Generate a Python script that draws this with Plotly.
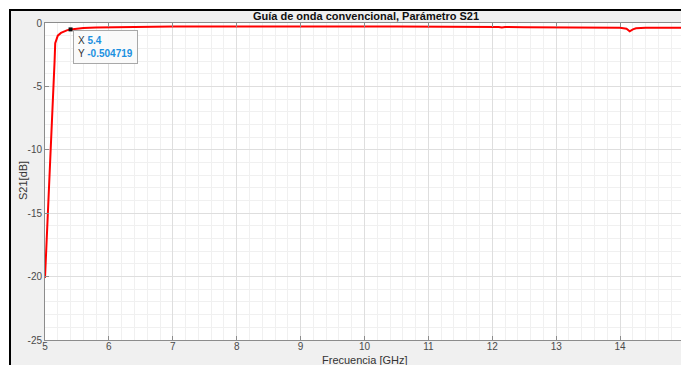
import plotly.graph_objects as go

# S21 sweep of the conventional waveguide (frequency in GHz, magnitude in dB)
freq_ghz = [5.0, 5.05, 5.1, 5.13, 5.15, 5.16, 5.2, 5.25, 5.3, 5.35, 5.4, 5.5, 5.6, 5.8,
            6.0, 6.5, 7.0, 7.5, 8.0, 8.5, 9.0, 9.5, 10.0, 10.5, 11.0, 11.5, 12.0,
            12.1, 12.15, 12.2, 12.5, 13.0, 13.5, 14.0, 14.1, 14.15, 14.2, 14.25,
            14.4, 14.6, 15.0]
s21_db = [-20.1, -14.7, -9.4, -6.1, -3.0, -1.6, -1.0, -0.78, -0.64, -0.56, -0.504719,
          -0.43, -0.39, -0.35, -0.33, -0.3, -0.28, -0.27, -0.26, -0.25, -0.25, -0.26,
          -0.27, -0.28, -0.28, -0.29, -0.3, -0.31, -0.36, -0.32, -0.33, -0.35, -0.36,
          -0.38, -0.45, -0.65, -0.5, -0.42, -0.38, -0.37, -0.37]

# data tip
tip_x = 5.4
tip_y = -0.504719

x_ticks = [5, 6, 7, 8, 9, 10, 11, 12, 13, 14, 15]
y_ticks = [-25, -20, -15, -10, -5, 0]

W, H = 681, 365
L, R, T, B = 45, 0, 23, 25
pw, ph = W - L - R, H - T - B
px_per_ghz = 63.9
x_max = 5 + pw / px_per_ghz


def px(xp):
    return (xp - L) / pw


def py(yp):
    return (H - B - yp) / ph


font = "Liberation Sans, Arial, Helvetica, sans-serif"
tick_col = "#4a4a4a"
axis_col = "#8c8c8c"

fig = go.Figure()
fig.add_trace(go.Scatter(x=freq_ghz, y=s21_db, mode="lines",
                         line=dict(color="#ff0000", width=2), hoverinfo="skip"))
fig.add_trace(go.Scatter(x=[tip_x], y=[tip_y], mode="markers",
                         marker=dict(symbol="square", size=4, color="#111111"),
                         hoverinfo="skip"))

fig.update_layout(
    width=W, height=H,
    margin=dict(l=L, r=R, t=T, b=B),
    paper_bgcolor="#f0f0f0",
    plot_bgcolor="#ffffff",
    showlegend=False,
    font=dict(family=font, size=10, color=tick_col),
    title=dict(text="<b>Guía de onda convencional, Parámetro S21</b>",
               x=(L + px(366) * pw) / W, xanchor="center",
               y=1 - 16.5 / H, yanchor="middle",
               font=dict(family=font, size=11, color="#111111")),
)

fig.update_xaxes(range=[5, x_max], tickvals=x_ticks, ticktext=[str(v) for v in x_ticks],
                 showgrid=True, gridcolor="#dedede", gridwidth=1,
                 minor=dict(dtick=0.2, showgrid=True, gridcolor="#f0f0f0", gridwidth=1,
                            ticks=""),
                 showline=True, linecolor=axis_col, linewidth=1, mirror="ticks",
                 ticks="inside", ticklen=4, tickcolor=axis_col,
                 ticklabelstandoff=-3,
                 tickfont=dict(family=font, size=10, color=tick_col),
                 zeroline=False)
fig.update_yaxes(range=[-25, 0], tickvals=y_ticks, ticktext=[str(v) for v in y_ticks],
                 showgrid=True, gridcolor="#dedede", gridwidth=1,
                 minor=dict(dtick=1, showgrid=True, gridcolor="#f0f0f0", gridwidth=1,
                            ticks=""),
                 showline=True, linecolor=axis_col, linewidth=1,
                 ticks="inside", ticklen=4, tickcolor=axis_col,
                 tickfont=dict(family=font, size=10, color=tick_col),
                 zeroline=False)

# axis labels
fig.add_annotation(text="Frecuencia [GHz]", xref="paper", yref="paper",
                   x=px(365), y=py(359.5), xanchor="center", yanchor="middle",
                   showarrow=False, font=dict(family=font, size=11, color="#333333"))
fig.add_annotation(text="S21[dB]", xref="paper", yref="paper",
                   x=px(23), y=py(181), xanchor="center", yanchor="middle",
                   textangle=-90, showarrow=False,
                   font=dict(family=font, size=11, color="#333333"))

# data tip box
blue = "#1a90e0"
fig.add_annotation(
    text=(f"X <span style='color:{blue}'><b>{tip_x:g}</b></span><br>"
          f"Y <span style='color:{blue}'><b>{tip_y:g}</b></span>"),
    x=tip_x, y=tip_y, xref="x", yref="y", xanchor="left", yanchor="top",
    xshift=2, yshift=-1, showarrow=False, align="left",
    bgcolor="rgba(250,250,250,0.95)", bordercolor="#a8a8a8", borderwidth=1,
    borderpad=4, font=dict(family=font, size=10, color="#333333"))

# white surround and black frame edges
fig.add_shape(type="rect", xref="paper", yref="paper", x0=px(0), x1=px(10),
              y0=py(H + 5), y1=py(-5), fillcolor="#ffffff", line=dict(width=0))
fig.add_shape(type="rect", xref="paper", yref="paper", x0=px(0), x1=px(W + 5),
              y0=py(9), y1=py(-5), fillcolor="#ffffff", line=dict(width=0))
fig.add_shape(type="line", xref="paper", yref="paper", x0=px(9), x1=px(W + 5),
              y0=py(10), y1=py(10), line=dict(color="#000000", width=2))
fig.add_shape(type="line", xref="paper", yref="paper", x0=px(10), x1=px(10),
              y0=py(9), y1=py(H + 5), line=dict(color="#000000", width=2))

fig.write_html("out.html")
